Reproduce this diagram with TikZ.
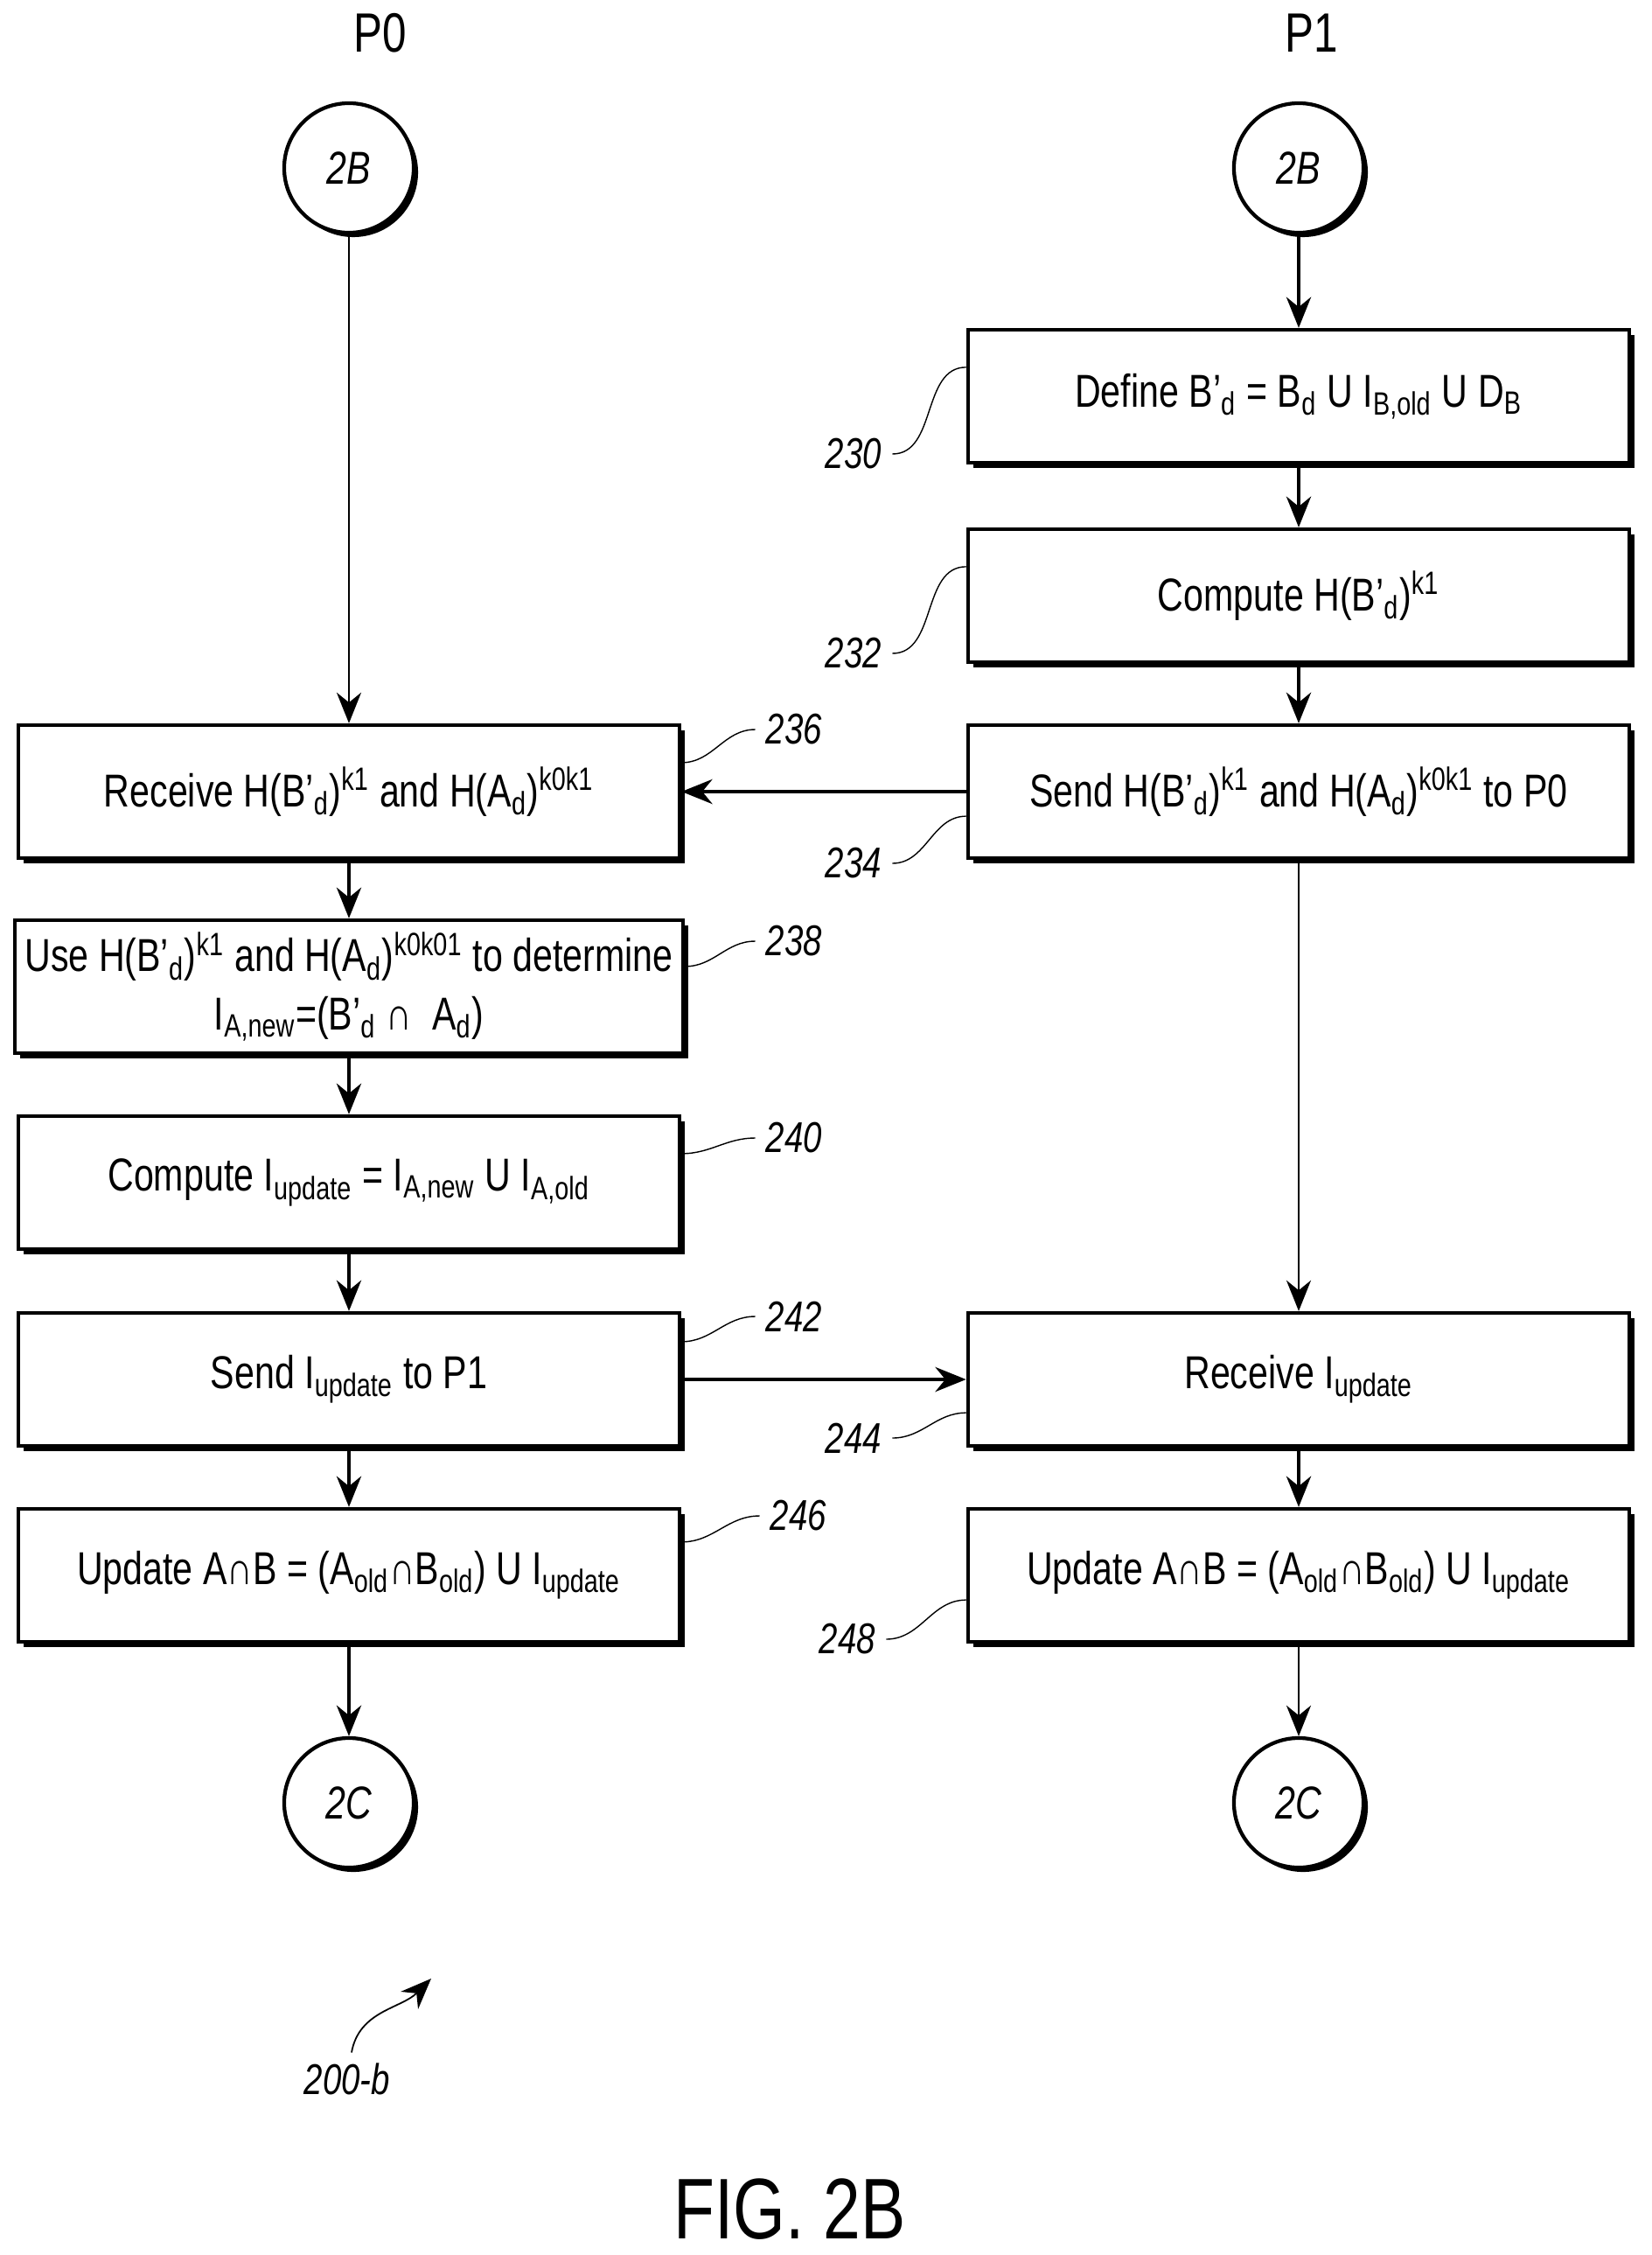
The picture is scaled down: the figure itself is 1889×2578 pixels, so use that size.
\documentclass[tikz,border=0pt]{standalone}
\usepackage{fontspec}
\setmainfont{Liberation Sans}[FakeStretch=0.78]
\usetikzlibrary{shadows,arrows.meta}
\newcommand{\sub}[1]{\textsubscript{#1}}
\newcommand{\sps}[1]{\textsuperscript{#1}}
\tikzset{
  stepbox/.style={draw, line width=1.2pt, fill=white, minimum width=7.56cm, minimum height=1.52cm,
    align=center, font=\fontsize{15}{19}\selectfont,
    drop shadow={shadow xshift=0.06cm, shadow yshift=-0.06cm, fill=black, opacity=1}},
  conn/.style={draw, circle, line width=1.2pt, fill=white, minimum size=1.48cm, font=\fontsize{15}{18}\selectfont\itshape,
    drop shadow={shadow xshift=0.05cm, shadow yshift=-0.05cm, fill=black, opacity=1}},
  ref/.style={font=\fontsize{14}{16}\selectfont\itshape},
  flow/.style={-{Stealth[length=10pt,width=8pt]}, line width=1.2pt},
  thinflow/.style={-{Stealth[length=10pt,width=8pt]}, line width=0.5pt},
}
\begin{document}
\begin{tikzpicture}[x=0.01cm,y=-0.01cm]
\useasboundingbox (0,0) rectangle (1889,2578);
\node[font=\fontsize{18}{20}\selectfont] (p0) at (435,38) {P0};
\node[font=\fontsize{18}{20}\selectfont] (p1) at (1500,38) {P1};
\node[conn] (2bl) at (399,192) {2B};
\node[conn] (2br) at (1485,192) {2B};
\node[stepbox] (b230) at (1485,453) {Define B'\sub{d} = B\sub{d} U I\sub{B,old} U D\sub{B}};
\node[stepbox] (b232) at (1485,681) {Compute H(B'\sub{d})\sps{k1}};
\node[stepbox] (b234) at (1485,905) {Send H(B'\sub{d})\sps{k1} and H(A\sub{d})\sps{k0k1} to P0};
\node[stepbox] (b236) at (399,905) {Receive H(B'\sub{d})\sps{k1} and H(A\sub{d})\sps{k0k1}};
\node[stepbox] (b238) at (399,1128) {Use H(B'\sub{d})\sps{k1} and H(A\sub{d})\sps{k0k01} to determine\\I\sub{A,new}=(B'\sub{d} ∩\ \ A\sub{d})};
\node[stepbox] (b240) at (399,1352) {Compute I\sub{update} = I\sub{A,new} U I\sub{A,old}};
\node[stepbox] (b242) at (399,1577) {Send I\sub{update} to P1};
\node[stepbox] (b244) at (1485,1577) {Receive I\sub{update}};
\node[stepbox] (b246) at (399,1801) {Update A∩B = (A\sub{old}∩B\sub{old}) U I\sub{update}};
\node[stepbox] (b248) at (1485,1801) {Update A∩B = (A\sub{old}∩B\sub{old}) U I\sub{update}};
\node[conn] (2cl) at (399,2061) {2C};
\node[conn] (2cr) at (1485,2061) {2C};
% connectors
\draw[thinflow] (2bl) -- (b236);
\draw[flow] (2br) -- (b230);
\draw[flow] (b230) -- (b232);
\draw[flow] (b232) -- (b234);
\draw[flow] (b234) -- (b236);
\draw[flow] (b236) -- (b238);
\draw[flow] (b238) -- (b240);
\draw[flow] (b240) -- (b242);
\draw[flow] (b242) -- (b244);
\draw[thinflow] (b234) -- (b244);
\draw[flow] (b242) -- (b246);
\draw[flow] (b244) -- (b248);
\draw[flow] (b246) -- (2cl);
\draw[thinflow] (b248) -- (2cr);
% reference numerals
\node[ref] (r230) at (976,519) {230};
\node[ref] (r232) at (976,747) {232};
\node[ref] (r234) at (976,987) {234};
\node[ref] (r244) at (976,1644) {244};
\node[ref] (r248) at (969,1874) {248};
\node[ref] (r236) at (908,834) {236};
\node[ref] (r238) at (908,1076) {238};
\node[ref] (r240) at (908,1301) {240};
\node[ref] (r242) at (908,1505) {242};
\node[ref] (r246) at (913,1733) {246};
\draw (r230.east) to[out=0,in=180] ([yshift=-0.45cm]b230.north west);
\draw (r232.east) to[out=0,in=180] ([yshift=-0.45cm]b232.north west);
\draw (r234.east) to[out=0,in=180] ([yshift=0.5cm]b234.south west);
\draw (r244.east) to[out=0,in=180] ([yshift=0.4cm]b244.south west);
\draw (r248.east) to[out=0,in=180] ([yshift=0.5cm]b248.south west);
\draw (r236.west) to[out=180,in=0] ([yshift=-0.45cm]b236.north east);
\draw (r238.west) to[out=180,in=0] ([yshift=-0.55cm]b238.north east);
\draw (r240.west) to[out=180,in=0] ([yshift=-0.45cm]b240.north east);
\draw (r242.west) to[out=180,in=0] ([yshift=-0.35cm]b242.north east);
\draw (r246.west) to[out=180,in=0] ([yshift=-0.4cm]b246.north east);
\node[ref] (r200) at (397,2377) {200-b};
\coordinate (a200) at (493,2262);
\draw[thinflow] ([xshift=0.05cm]r200.north) to[out=80,in=225] (a200);
\node[font=\fontsize{28}{30}\selectfont] (fig) at (903,2526) {FIG. 2B};
\end{tikzpicture}
\end{document}
